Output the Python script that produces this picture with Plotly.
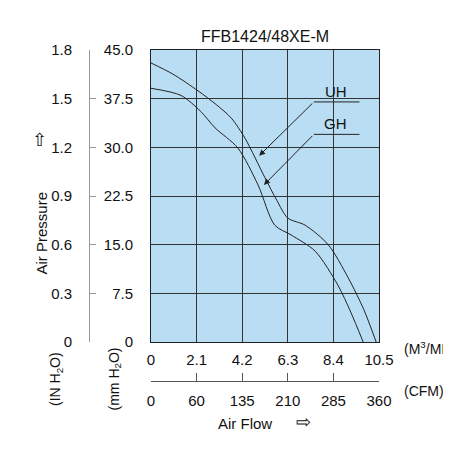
import plotly.graph_objects as go

# air flow (M3/MIN) vs static pressure (mm H2O)
uh_flow = [0, 1.0, 2.17, 3.0, 3.7, 4.33, 5.25, 5.8, 6.3, 7.1, 8.16, 9.08, 9.8, 10.37]
uh_pres = [43.0, 41.3, 38.7, 36.6, 34.5, 31.4, 25.3, 21.8, 19.1, 18.0, 15.0, 9.9, 5.0, 0]
gh_flow = [0, 1.38, 2.3, 2.95, 4.0, 4.93, 5.7, 6.45, 7.56, 8.6, 9.2, 9.77]
gh_pres = [39.1, 38.0, 35.5, 33.0, 29.9, 24.2, 18.0, 16.5, 14.0, 8.8, 4.6, 0]

m3_ticks = [0, 2.1, 4.2, 6.3, 8.4, 10.5]
cfm_labels = ["0", "60", "135", "210", "285", "360"]
mm_ticks = [0, 7.5, 15, 22.5, 30, 37.5, 45]
mm_labels = ["0", "7.5", "15.0", "22.5", "30.0", "37.5", "45.0"]
in_ticks = [0, 0.3, 0.6, 0.9, 1.2, 1.5, 1.8]
in_labels = ["0", "0.3", "0.6", "0.9", "1.2", "1.5", "1.8"]

W, H = 451, 450
x0, x1 = 143 / W, 371 / W
y0, y1 = 1 - 334 / H, 1 - 42 / H
font = dict(family="Liberation Sans, Arial", size=15, color="#111")

fig = go.Figure()
for fx, fy in [(uh_flow, uh_pres), (gh_flow, gh_pres)]:
    fig.add_trace(go.Scatter(x=fx, y=fy, mode="lines", line=dict(color="#222", width=1, shape="spline", smoothing=0.8),
                             showlegend=False, hoverinfo="skip"))
# dummy traces for the extra axes
fig.add_trace(go.Scatter(x=[0], y=[0], yaxis="y2", mode="none", showlegend=False, hoverinfo="skip"))
fig.add_trace(go.Scatter(x=[0], y=[0], xaxis="x2", mode="none", showlegend=False, hoverinfo="skip"))

fig.update_layout(
    width=W, height=H, margin=dict(l=0, r=0, t=0, b=0, autoexpand=False),
    paper_bgcolor="white", plot_bgcolor="#b9def4", font=font,
    xaxis=dict(domain=[x0, x1], range=[0, 10.5], tickvals=m3_ticks, ticktext=[str(v) for v in m3_ticks],
               showgrid=True, gridcolor="#333", gridwidth=1, zeroline=False, showline=True, linecolor="#222",
               mirror=True, ticks="", ticklabelstandoff=4, automargin=False),
    yaxis=dict(domain=[y0, y1], range=[0, 45], tickvals=mm_ticks, ticktext=mm_labels,
               showgrid=True, gridcolor="#333", gridwidth=1, zeroline=False, showline=True, linecolor="#222",
               mirror=True, ticks="", ticklabelstandoff=14, automargin=False),
    yaxis2=dict(overlaying="y", anchor="free", position=81 / W, side="left", range=[0, 1.8],
                tickvals=in_ticks, ticktext=in_labels, showgrid=False, zeroline=False, showline=True,
                linecolor="#999", ticks="inside", ticklen=6, tickcolor="#999", ticklabelstandoff=14,
                automargin=False),
    xaxis2=dict(overlaying="x", anchor="free", position=1 - 373 / H, side="bottom", range=[0, 10.5],
                tickvals=m3_ticks, ticktext=cfm_labels, showgrid=False, zeroline=False, showline=True,
                linecolor="#555", ticks="inside", ticklen=8, tickcolor="#555", ticklabelstandoff=6,
                automargin=False),
)

# leader lines with arrows to the curves
for lbl, ly, tip in [("UH", 37.0, (4.98, 28.7)), ("GH", 32.0, (5.2, 24.2))]:
    fig.add_shape(type="line", x0=7.5, x1=9.6, y0=ly, y1=ly, line=dict(color="#222", width=1))
    fig.add_annotation(x=tip[0], y=tip[1], ax=7.5, ay=ly, axref="x", ayref="y", showarrow=True,
                       arrowhead=2, arrowsize=1.2, arrowwidth=1, arrowcolor="#222", text="")
    fig.add_annotation(x=8.5, y=ly, text=lbl, showarrow=False, yanchor="bottom", font=font)

def txt(x, y, t, angle=0, size=15, **kw):
    fig.add_annotation(x=x / W, y=1 - y / H, xref="paper", yref="paper", text=t, showarrow=False,
                       textangle=angle, font=dict(family=font["family"], size=size, color="#111"), **kw)

txt(257, 18, "FFB1424/48XE-M", size=16)
txt(22, 225, "Air Pressure", angle=-90)
txt(22, 120, "⇧", size=18)
txt(37, 400, "(IN H<sub>2</sub>O)", angle=-90, size=14)
txt(95, 405, "(mm H<sub>2</sub>O)", angle=-90, size=14)
txt(394, 351, "(M<sup>3</sup>/MIN)", size=14, xanchor="left")
txt(394, 393, "(CFM)", size=14, xanchor="left")
txt(237, 426, "Air Flow")
txt(305, 426, "⇨", size=18)

fig.write_html("out.html")
